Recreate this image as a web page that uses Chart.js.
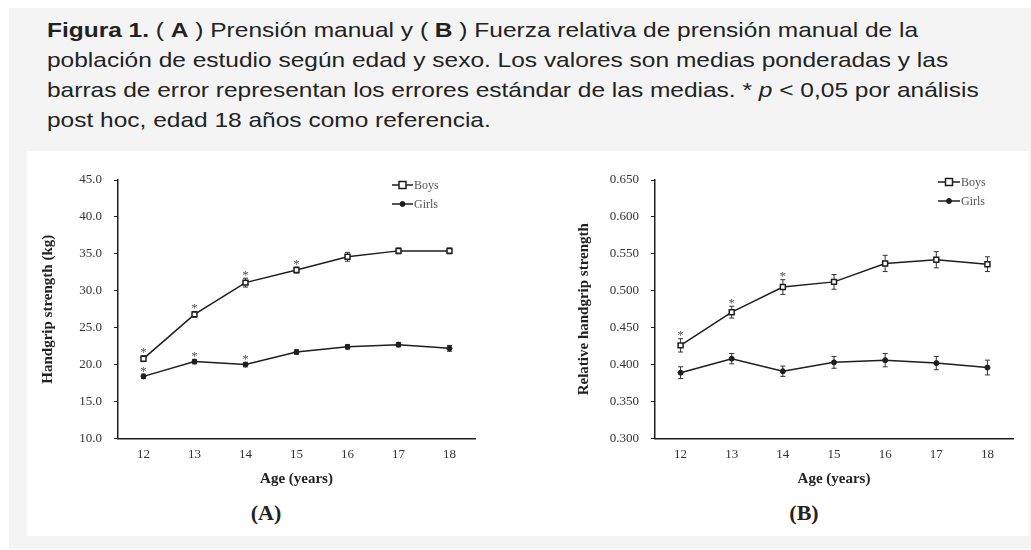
<!DOCTYPE html>
<html><head><meta charset="utf-8">
<script src="https://cdn.jsdelivr.net/npm/chart.js@4.4.1/dist/chart.umd.min.js"></script>
<style>
html,body{margin:0;padding:0;background:#fff;width:1031px;height:550px;overflow:hidden;}
#panel{position:absolute;left:9px;top:8px;width:1022px;height:541px;background:#f4f4f4;}
#caption{position:absolute;left:47px;top:15px;white-space:nowrap;font-family:"Liberation Sans",Arial,sans-serif;font-size:21px;line-height:30px;color:#222;transform:scaleX(1.166);transform-origin:0 0;}
#white{position:absolute;left:27px;top:151px;width:1002px;height:385px;background:#fff;overflow:hidden;}
.cv{position:absolute;top:0;}
.plabel{position:absolute;font-family:"Liberation Serif","Times New Roman",serif;font-weight:bold;font-size:22px;color:#222;transform:translate(-50%,-50%);white-space:nowrap;}
</style></head>
<body>
<div id="panel"></div>
<div id="caption"><b>Figura 1.</b> ( <b>A</b> ) Prensión manual y ( <b>B</b> ) Fuerza relativa de prensión manual de la<br>población de estudio según edad y sexo. Los valores son medias ponderadas y las<br>barras de error representan los errores estándar de las medias. * <i>p</i> &lt; 0,05 por análisis<br>post hoc, edad 18 años como referencia.</div>
<div id="white">
  <canvas id="cA" class="cv" width="470" height="349" style="left:0px"></canvas>
  <canvas id="cB" class="cv" width="460" height="349" style="left:543px"></canvas>
  <div class="plabel" style="left:239px;top:362px">(A)</div>
  <div class="plabel" style="left:777px;top:362px">(B)</div>
</div>
<script>
// ---- data ----
const ages = ['12','13','14','15','16','17','18'];
const seriesNames = ['Boys','Girls'];

const boysA   = [20.8, 26.8, 31.1, 32.8, 34.6, 35.4, 35.4];
const boysSeA = [0.4, 0.4, 0.6, 0.4, 0.6, 0.4, 0.4];
const girlsA  = [18.4, 20.4, 20.0, 21.7, 22.4, 22.7, 22.2];
const girlsSeA= [0.3, 0.3, 0.3, 0.3, 0.3, 0.3, 0.4];
const boysStarA  = [1,1,1,1,0,0,0];
const girlsStarA = [1,1,1,0,0,0,0];
const yTicksA = ['10.0','15.0','20.0','25.0','30.0','35.0','40.0','45.0'];

const boysB   = [0.426, 0.471, 0.505, 0.512, 0.537, 0.542, 0.536];
const boysSeB = [0.009, 0.008, 0.010, 0.010, 0.011, 0.011, 0.010];
const girlsB  = [0.389, 0.408, 0.391, 0.403, 0.406, 0.402, 0.396];
const girlsSeB= [0.008, 0.007, 0.007, 0.008, 0.009, 0.009, 0.010];
const boysStarB  = [1,1,1,0,0,0,0];
const girlsStarB = [0,0,0,0,0,0,0];
const yTicksB = ['0.300','0.350','0.400','0.450','0.500','0.550','0.600','0.650'];

const yTitleA = 'Handgrip strength (kg)';
const yTitleB = 'Relative handgrip strength';
const xTitle = 'Age (years)';

// ---- styles ----
const SERIF = '"Liberation Serif","Times New Roman",serif';
const LINE = '#1e1e1e';

function drawMarker(ctx, style, r, x, y, fill, stroke, bw){
  ctx.save();
  ctx.fillStyle = fill; ctx.strokeStyle = stroke; ctx.lineWidth = bw;
  ctx.beginPath();
  if (style === 'rect') ctx.rect(x-r, y-r, 2*r, 2*r);
  else ctx.arc(x, y, r, 0, Math.PI*2);
  ctx.fill(); ctx.stroke();
  ctx.restore();
}

const errorBars = {
  id: 'errorBars',
  beforeDatasetsDraw(chart){
    const ctx = chart.ctx, ys = chart.scales.y;
    ctx.save();
    ctx.strokeStyle = '#333'; ctx.lineWidth = 1;
    chart.data.datasets.forEach((ds, di) => {
      const meta = chart.getDatasetMeta(di);
      ds.data.forEach((v, i) => {
        const x = meta.data[i].x;
        const t = ys.getPixelForValue(v + ds.se[i]);
        const b = ys.getPixelForValue(v - ds.se[i]);
        ctx.beginPath();
        ctx.moveTo(x, t); ctx.lineTo(x, b);
        ctx.moveTo(x-2.5, t); ctx.lineTo(x+2.5, t);
        ctx.moveTo(x-2.5, b); ctx.lineTo(x+2.5, b);
        ctx.stroke();
      });
    });
    ctx.restore();
  },
  afterDatasetsDraw(chart){
    const ctx = chart.ctx, ys = chart.scales.y;
    ctx.save();
    ctx.fillStyle = '#555'; ctx.font = '13px ' + SERIF;
    ctx.textAlign = 'center'; ctx.textBaseline = 'alphabetic';
    chart.data.datasets.forEach((ds, di) => {
      const meta = chart.getDatasetMeta(di);
      ds.data.forEach((v, i) => {
        if (!ds.stars[i]) return;
        const x = meta.data[i].x;
        const t = ys.getPixelForValue(v + ds.se[i]);
        ctx.fillText('*', x, t + 0.5);
      });
    });
    ctx.restore();
  }
};

const legendInside = {
  id: 'legendInside',
  afterDraw(chart, args, o){
    const ctx = chart.ctx, ca = chart.chartArea;
    ctx.save();
    chart.data.datasets.forEach((ds, i) => {
      const y = ca.top + o.offsetY + i * o.rowGap;
      const x1 = ca.right - o.offsetX, x2 = x1 + o.lineLen;
      ctx.strokeStyle = ds.borderColor; ctx.lineWidth = ds.borderWidth;
      ctx.beginPath(); ctx.moveTo(x1, y); ctx.lineTo(x2, y); ctx.stroke();
      drawMarker(ctx, ds.pointStyle, ds.pointRadius, (x1+x2)/2, y, ds.pointBackgroundColor, ds.pointBorderColor, ds.pointBorderWidth);
      ctx.fillStyle = '#555'; ctx.font = '12px ' + SERIF;
      ctx.textAlign = 'left'; ctx.textBaseline = 'middle';
      ctx.fillText(ds.label, x2 + 1, y + 0.5);
    });
    ctx.restore();
  }
};

function makeChart(id, boys, boysSe, boysStar, girls, girlsSe, girlsStar, yMin, yMax, yStep, yTicks, yTitle, pad, yWidth, leg){
  return new Chart(document.getElementById(id), {
    type: 'line',
    data: {
      labels: ages,
      datasets: [
        { label: seriesNames[0], data: boys, se: boysSe, stars: boysStar,
          borderColor: LINE, borderWidth: 1.5, tension: 0,
          pointStyle: 'rect', pointRadius: 3.5, pointBorderWidth: 1.5,
          pointBackgroundColor: '#fff', pointBorderColor: LINE },
        { label: seriesNames[1], data: girls, se: girlsSe, stars: girlsStar,
          borderColor: LINE, borderWidth: 1.5, tension: 0,
          pointStyle: 'circle', pointRadius: 2.5, pointBorderWidth: 1,
          pointBackgroundColor: LINE, pointBorderColor: LINE }
      ]
    },
    options: {
      responsive: false, animation: false, devicePixelRatio: 1,
      layout: { padding: pad },
      plugins: { legend: { display: false }, tooltip: { enabled: false },
                 legendInside: leg },
      scales: {
        x: {
          offset: true,
          grid: { display: false, drawTicks: false },
          border: { display: true, color: LINE, width: 1.5 },
          ticks: { color: '#333', padding: 8, font: { family: SERIF, size: 13 } },
          title: { display: true, text: xTitle, color: '#222', padding: { top: 0, bottom: 4 },
                   font: { family: SERIF, size: 15, weight: 'bold' } }
        },
        y: {
          min: yMin, max: yMax,
          afterFit: (s) => { s.width = yWidth; },
          grid: { drawOnChartArea: false, drawTicks: true, tickLength: 4, color: LINE, lineWidth: 1 },
          border: { display: true, color: LINE, width: 1.5 },
          ticks: { stepSize: yStep, color: '#333', padding: 12, font: { family: SERIF, size: 13 },
                   callback: (v, i) => yTicks[i] },
          title: { display: true, text: yTitle, color: '#222', padding: { top: 4, bottom: 4 },
                   font: { family: SERIF, size: 15, weight: 'bold' } }
        }
      }
    },
    plugins: [errorBars, legendInside]
  });
}

makeChart('cA', boysA, boysSeA, boysStarA, girlsA, girlsSeA, girlsStarA, 10, 45, 5, yTicksA, yTitleA,
  { left: 8, right: 22, top: 29, bottom: 8 }, 83,
  { offsetX: 83, offsetY: 5, rowGap: 19, lineLen: 21 });
makeChart('cB', boysB, boysSeB, boysStarB, girlsB, girlsSeB, girlsStarB, 0.3, 0.65, 0.05, yTicksB, yTitleB,
  { left: 1, right: 17, top: 29, bottom: 8 }, 84,
  { offsetX: 75, offsetY: 2, rowGap: 19, lineLen: 22 });
</script>
</body></html>
